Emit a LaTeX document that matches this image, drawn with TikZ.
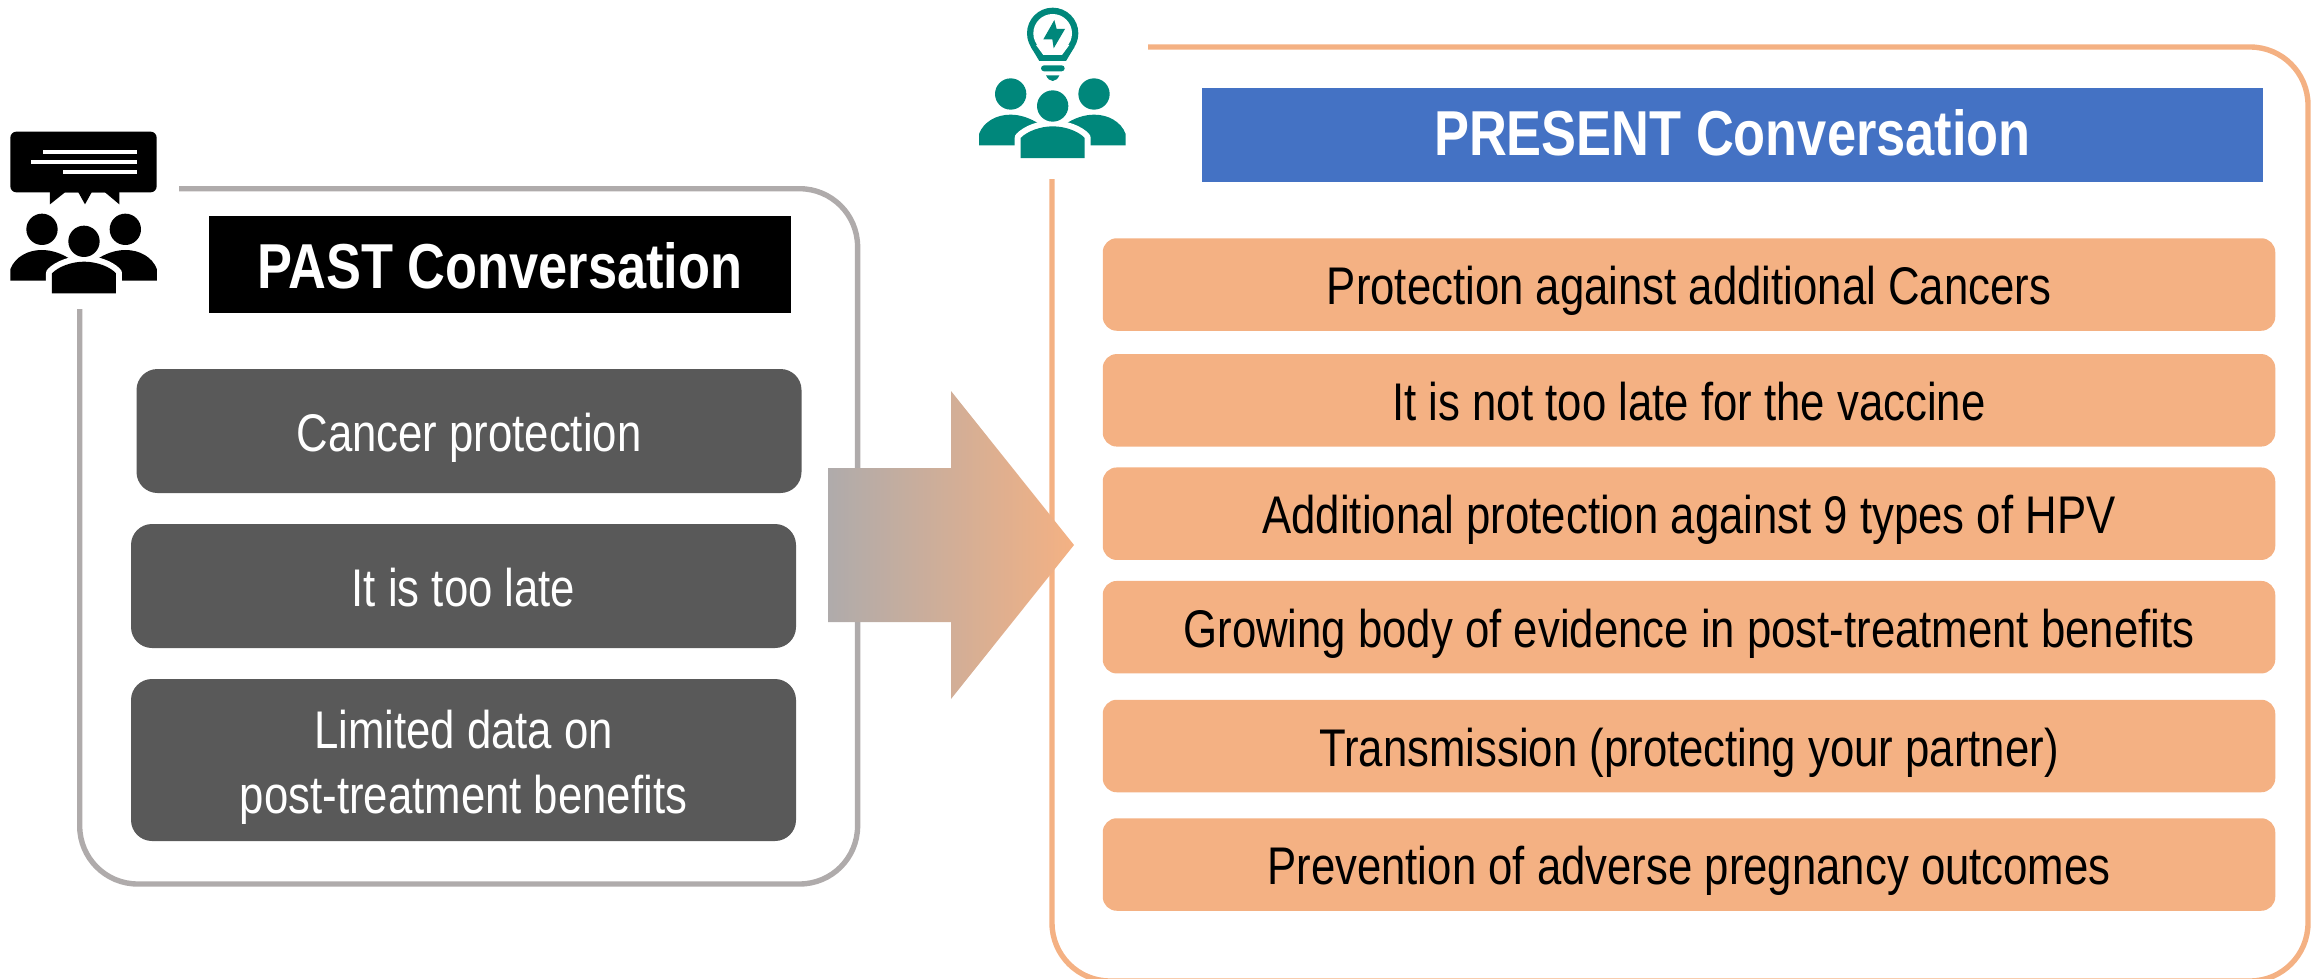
\documentclass[tikz,border=0pt]{standalone}
\usepackage{fontspec}
\setmainfont{Liberation Sans}[FakeStretch=0.825]
\definecolor{gframe}{HTML}{AFABAB}
\definecolor{orng}{HTML}{F4B183}
\definecolor{dgray}{HTML}{595959}
\definecolor{blu}{HTML}{4472C4}
\definecolor{tealc}{HTML}{00877B}
\tikzset{
  frameline/.style={line width=5.4pt,line cap=butt,rounded corners=58pt},
  header/.style={inner sep=0pt,text depth=0pt,text=white,font=\fontsize{63.5}{70}\selectfont\bfseries},
  grayb/.style={fill=dgray,rounded corners=21pt,inner sep=0pt,minimum width=665pt,text=white,text height=41.5pt,text depth=0pt,font=\fontsize{53}{65}\selectfont},
  orngb/.style={fill=orng,rounded corners=14pt,inner sep=0pt,minimum width=1172.5pt,minimum height=92.5pt,text=black,text height=40.5pt,text depth=0pt,font=\fontsize{53}{65}\selectfont},
  grayt/.style={text=white,inner sep=0pt,align=center,font=\fontsize{53}{65}\selectfont},
}
\newcommand{\drawpeople}[1]{%
  \fill[#1] (31,512) -- (31,478) .. controls (45,440) and (85,420) .. (125,420) .. controls (155,420) and (185,430) .. (215,450) -- (200,512) -- cycle;
  \fill[#1] (471,512) -- (471,478) .. controls (457,440) and (417,420) .. (377,420) .. controls (347,420) and (317,430) .. (287,450) -- (302,512) -- cycle;
  \filldraw[fill=white,draw=white,line width=12pt,line join=round] (156,550) -- (156,490) .. controls (175,470) and (215,455) .. (252,455) .. controls (290,455) and (330,470) .. (348,490) -- (348,550) -- cycle;
  \fill[#1] (156,550) -- (156,490) .. controls (175,470) and (215,455) .. (252,455) .. controls (290,455) and (330,470) .. (348,490) -- (348,550) -- cycle;
  \fill[#1] (126,358) circle (47);
  \fill[#1] (376,358) circle (47);
  \fill[#1] (252,394) circle (47);
}
\begin{document}
\begin{tikzpicture}[x=1pt,y=-1pt]
\useasboundingbox (0,0) rectangle (2323,979);
% frames
\draw[frameline,gframe] (179,188.7) -- (857.6,188.7) -- (857.6,884) -- (79.7,884) -- (79.7,309);
\draw[frameline,orng] (1148,47) -- (2308,47) -- (2308,981) -- (1052,981) -- (1052,179);
% headers
\node[header,text height=47.5pt,fill=black,minimum width=582pt,minimum height=97pt] (pasth) at (500,264.5) {PAST Conversation};
\node[header,text height=40.5pt,fill=blu,minimum width=1061pt,minimum height=94pt] (presh) at (1732.5,135) {PRESENT Conversation};
% past boxes
\node[grayb,minimum height=124pt] (p1) at (469,431) {Cancer protection};
\node[grayb,minimum height=124pt] (p2) at (463.5,586) {It is too late};
\node[grayb,minimum height=162pt] (p3) at (463.5,760) {};
\node[grayt] (p3t) at (463.5,767) {Limited data on\\post-treatment benefits};
% present boxes
\node[orngb] (c1) at (1689,284.5) {Protection against additional Cancers};
\node[orngb] (c2) at (1689,400.3) {It is not too late for the vaccine};
\node[orngb] (c3) at (1689,513.7) {Additional protection against 9 types of HPV};
\node[orngb] (c4) at (1689,627.2) {Growing body of evidence in post-treatment benefits};
\node[orngb] (c5) at (1689,746) {Transmission (protecting your partner)};
\node[orngb] (c6) at (1689,864.5) {Prevention of adverse pregnancy outcomes};
% arrow
\shade[left color=gframe,right color=orng] (828,468) -- (951,468) -- (951,391) -- (1074,545) -- (951,699) -- (951,622) -- (828,622) -- cycle;
% black icon
\begin{scope}[shift={(0,110)},x=0.33333pt,y=-0.33333pt]
  \fill[black,rounded corners=6pt] (31,65) rectangle (470,247);
  \fill[black] (150,240) -- (150,283) -- (195,247) -- (235,247) -- (255,283) -- (275,247) -- (315,247) -- (358,283) -- (358,240) -- cycle;
  \fill[white] (128,120) rectangle (410,132);
  \fill[white] (92,151) rectangle (410,163);
  \fill[white] (188,181) rectangle (410,193);
  \drawpeople{black}
\end{scope}
% teal icon
\begin{scope}[shift={(968.67,-25.33)},x=0.33333pt,y=-0.33333pt]
  \drawpeople{tealc}
\end{scope}
\begin{scope}[shift={(960,0)},x=0.33333pt,y=-0.33333pt]
  \fill[tealc] (278,100) circle (77);
  \fill[tealc] (212,140) -- (344,140) -- (318,183) -- (238,183) -- cycle;
  \fill[white] (278,100) circle (58);
  \fill[white] (228,135) -- (328,135) -- (306,165) -- (250,165) -- cycle;
  \fill[tealc] (283,60) -- (250,118) -- (277,118) -- (281,145) -- (315,87) -- (290,87) -- cycle;
  \fill[tealc,rounded corners=3pt] (243,196) rectangle (314,214);
  \fill[tealc] (258,226) -- (298,226) .. controls (294,236) and (286,243) .. (278,243) .. controls (270,243) and (262,236) .. (258,226) -- cycle;
\end{scope}
\end{tikzpicture}
\end{document}
